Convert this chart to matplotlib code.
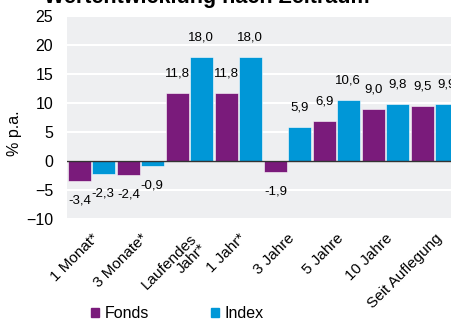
import matplotlib.pyplot as plt
import numpy as np
from matplotlib.patches import Patch

plt.rcParams['font.family'] = ['Liberation Sans', 'DejaVu Sans']

# DATA ------------------------------------------------------
categories = ["1 Monat*", "3 Monate*", "Laufendes\nJahr*", "1 Jahr*",
              "3 Jahre", "5 Jahre", "10 Jahre", "Seit Auflegung"]
fonds = [-3.4, -2.4, 11.8, 11.8, -1.9, 6.9, 9.0, 9.5]
index = [-2.3, -0.9, 18.0, 18.0, 5.9, 10.6, 9.8, 9.9]

purple = "#7A1B7B"
blue = "#0097D7"
bg = "#EEEFF1"

# Figure ----------------------------------------------------
fig = plt.figure(figsize=(4.51, 3.2), dpi=100)
ax = fig.add_axes([67 / 451, 101 / 320, 392 / 451, 203 / 320])
ax.set_facecolor(bg)

x = np.arange(len(categories))
w = 0.47
b1 = ax.bar(x - w / 2 - 0.005, fonds, width=w, color=purple,
            edgecolor="white", linewidth=0.4, zorder=3)
b2 = ax.bar(x + w / 2 + 0.005, index, width=w, color=blue,
            edgecolor="white", linewidth=0.4, zorder=3)

# value labels
for bars, vals in ((b1, fonds), (b2, index)):
    for bar, v in zip(bars, vals):
        off = 14 if v >= 0 else -14
        ax.annotate(f"{v:.1f}".replace(".", ","),
                    (bar.get_x() + bar.get_width() / 2, v),
                    xytext=(0, off), textcoords="offset points",
                    ha="center", va="center", fontsize=9.5, zorder=4)

ax.set_xlim(-0.5, len(categories) - 0.5)
ax.set_ylim(-10, 25)
ax.set_yticks(np.arange(-10, 26, 5))
ax.yaxis.grid(True, color="white", linewidth=1.5, zorder=0)
ax.set_axisbelow(True)
ax.axhline(0, color="#333333", linewidth=1.0, zorder=5)
for s in ax.spines.values():
    s.set_visible(False)
ax.tick_params(axis="both", length=0)
ax.tick_params(axis="y", pad=10, labelsize=11.5)

ax.set_xticks(x)
ax.set_xticklabels(categories, rotation=45, ha="right",
                   rotation_mode="anchor", linespacing=1.0)
ax.tick_params(axis="x", pad=9, labelsize=11)

fig.text(15 / 451, 1 - 133 / 320, "% p.a.", rotation=90,
         ha="center", va="center", fontsize=11.5)

# title (cut off at the top, as in the original)
fig.text(207 / 451, 1 - 3.5 / 320, "Wertentwicklung nach Zeitraum", ha="center",
         va="baseline", fontsize=15.5, fontweight="bold")

handles = [Patch(color=purple, label="Fonds"), Patch(color=blue, label="Index")]
fig.legend(handles=handles, loc="center left", bbox_to_anchor=(91 / 451, 6 / 320),
           ncol=2, frameon=False, fontsize=11.5, handlelength=0.5,
           handleheight=0.5, handletextpad=0.35, columnspacing=3.9,
           borderpad=0, borderaxespad=0)

fig.savefig("out.png", dpi=100)
